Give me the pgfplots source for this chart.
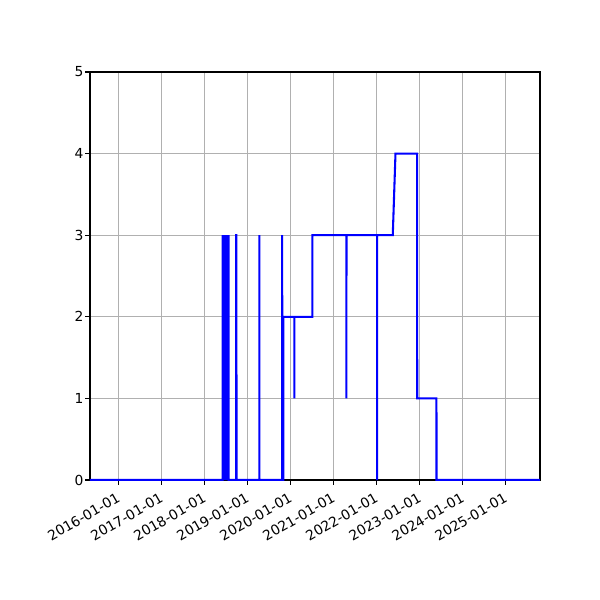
\documentclass[border=0pt]{standalone}
\usepackage{pgfplots}
\pgfplotsset{compat=1.18}
\usepackage{fontspec}
\setmainfont{DejaVu Sans}
\begin{document}
\begin{tikzpicture}[x=1pt,y=1pt]
% page of 600x600 px: 1 px = 0.7227 pt
\useasboundingbox (-65.04pt,-86.72pt) rectangle (368.56pt,346.89pt);
% x values are years minus 2000 (keeps the FPU precision of close points)
\begin{axis}[
    at={(0pt,0pt)}, anchor=south west,
    scale only axis,
    width=325.2pt,
    height=294.86pt,
    xmin=15.343, xmax=25.80,
    ymin=0, ymax=5,
    xtick={16,17,18,19,20,21,22,23,24,25},
    xticklabels={2016-01-01,2017-01-01,2018-01-01,2019-01-01,2020-01-01,2021-01-01,2022-01-01,2023-01-01,2024-01-01,2025-01-01},
    ytick={0,1,2,3,4,5},
    xticklabel style={rotate=30, anchor=north east, inner sep=1pt, yshift=-2.5pt, xshift=-3pt},
    yticklabel style={inner sep=1pt},
    tick pos=left,
    tick align=outside,
    major tick length=3.5pt,
    tick style={black, line width=0.8pt},
    axis line style={line width=0.8pt},
    grid=major,
    grid style={color=black!31, line width=0.8pt},
    font=\fontsize{10}{12}\selectfont,
    /pgf/number format/assume math mode=true,
]
% dense run of 0/3 toggles in mid 2018
\addplot[draw=none, fill=blue, forget plot] coordinates {
  (18.426,0) (18.426,3) (18.566,3) (18.566,0)
} \closedcycle;
\addplot[color=blue, line width=1.5pt] coordinates {
  (15.343,0)
  (18.424,0) (18.426,3) (18.436,0) (18.446,3) (18.456,0)
  (18.466,3) (18.476,0) (18.486,3) (18.496,0) (18.506,3)
  (18.516,0) (18.526,3) (18.536,0) (18.546,3) (18.556,0)
  (18.565,3) (18.566,0)
  (18.737,0) (18.738,3) (18.746,3) (18.747,0)
  (19.278,0) (19.279,3) (19.281,0)
  (19.806,0) (19.807,3) (19.818,0)
  (19.836,0) (19.837,2)
  (20.092,2) (20.093,1) (20.094,2)
  (20.511,2) (20.512,3)
  (21.301,3) (21.302,1) (21.303,3)
  (22.015,3) (22.016,0) (22.017,3)
  (22.379,3) (22.442,4)
  (22.946,4) (22.947,1)
  (23.394,1) (23.395,0)
  (25.80,0)
};
\end{axis}
\end{tikzpicture}
\end{document}
